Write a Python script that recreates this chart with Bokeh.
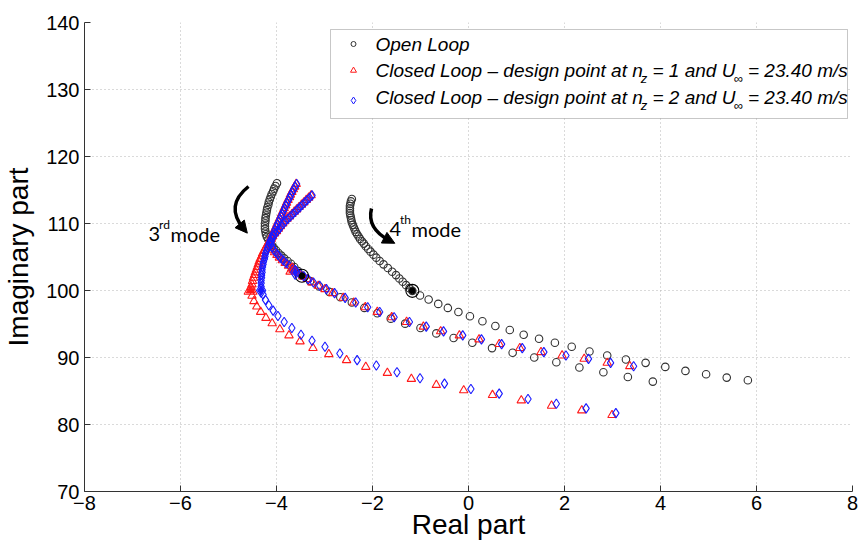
from bokeh.plotting import figure
from bokeh.models import FixedTicker, BoxAnnotation, Label, Arrow, NormalHead
from bokeh.embed import file_html
from bokeh.resources import INLINE

# ---------------- data ----------------
x_ticks = [-8, -6, -4, -2, 0, 2, 4, 6, 8]
x_tick_labels = ["\u22128", "\u22126", "\u22124", "\u22122", "0", "2", "4", "6", "8"]
y_ticks = [70, 80, 90, 100, 110, 120, 130, 140]
y_tick_labels = ["70", "80", "90", "100", "110", "120", "130", "140"]

# Open loop, 3rd mode (real, imag)
ol_mode3 = [(-3.99,116.0),(-4.02,115.6),(-4.05,115.2),(-4.07,114.8),(-4.10,114.4),(-4.12,114.0),
            (-4.14,113.6),(-4.16,113.2),(-4.17,112.8),(-4.19,112.4),(-4.20,112.0),(-4.21,111.6),
            (-4.22,111.2),(-4.23,110.8),(-4.23,110.4),(-4.24,110.0),(-4.24,109.6),(-4.24,109.2),
            (-4.23,108.8),(-4.22,108.4),(-4.20,108.0),(-4.17,107.6),(-4.14,107.2),(-4.10,106.8),
            (-4.06,106.4),(-4.01,106.0),(-3.96,105.6),(-3.90,105.2),(-3.84,104.8),(-3.77,104.4),
            (-3.70,104.0),(-3.63,103.5),(-3.55,102.9),(-3.47,102.2),(-3.30,101.4),(-3.11,100.6),
            (-2.90,99.8),(-2.67,99.0),(-2.43,98.2),(-2.17,97.4),(-1.90,96.6),(-1.62,95.8),
            (-1.32,95.05),(-1.00,94.4),(-0.67,93.6),(-0.31,92.9),(0.08,92.2),(0.49,91.4),
            (0.92,90.7),(1.37,90.0),(1.83,89.3),(2.31,88.5),(2.81,87.8),(3.32,87.1),(3.84,86.4)]
# Open loop, 4th mode
ol_mode4 = [(-2.43,113.65),(-2.45,113.3),(-2.46,112.95),(-2.47,112.6),(-2.47,112.25),(-2.47,111.9),
            (-2.47,111.55),(-2.46,111.2),(-2.45,110.85),(-2.44,110.5),(-2.43,110.15),(-2.41,109.8),
            (-2.39,109.45),(-2.37,109.1),(-2.35,108.75),(-2.32,108.4),(-2.29,108.05),(-2.26,107.7),
            (-2.22,107.35),(-2.18,107.0),(-2.14,106.6),(-2.09,106.2),(-2.04,105.8),(-1.98,105.35),
            (-1.92,104.9),(-1.85,104.4),(-1.77,103.9),(-1.68,103.35),(-1.59,102.8),(-1.51,102.3),
            (-1.44,101.8),(-1.37,101.3),(-1.30,100.8),(-1.23,100.35),(-1.17,99.95),(-1.01,99.25),
            (-0.83,98.65),(-0.63,98.0),(-0.43,97.4),(-0.21,96.8),(0.03,96.15),(0.29,95.4),
            (0.56,94.7),(0.86,94.1),(1.15,93.4),(1.47,92.8),(1.80,92.2),(2.15,91.6),(2.52,90.9),
            (2.89,90.3),(3.28,89.7),(3.69,89.2),(4.10,88.6),(4.52,88.0),(4.95,87.5),(5.38,87.0),
            (5.82,86.6)]
ol_design = [(-3.47,102.2),(-1.17,99.95)]

# Closed loop, design point n_z = 1 (two modes)
cl1_mode_a = [(-3.59,115.9),(-3.62,115.5),(-3.65,115.1),(-3.68,114.7),(-3.71,114.3),(-3.73,113.9),
              (-3.76,113.5),(-3.79,113.1),(-3.81,112.7),(-3.84,112.3),(-3.86,111.9),(-3.89,111.5),
              (-3.91,111.1),(-3.94,110.7),(-3.96,110.3),(-3.99,109.9),(-4.01,109.5),(-4.04,109.1),
              (-4.06,108.7),(-4.09,108.3),(-4.11,107.9),(-4.14,107.5),(-4.17,107.1),(-4.20,106.7),
              (-4.23,106.3),(-4.26,105.9),(-4.29,105.5),(-4.31,105.1),(-4.34,104.7),(-4.36,104.3),
              (-4.38,103.9),(-4.40,103.5),(-4.42,103.1),(-4.44,102.7),(-4.46,102.3),(-4.48,101.9),
              (-4.50,101.4),(-4.51,100.9),(-4.53,100.5),(-4.54,100.0),(-4.51,99.2),(-4.47,98.4),
              (-4.41,97.6),(-4.33,96.8),(-4.22,95.9),(-4.09,95.1),(-3.93,94.2),(-3.74,93.3),
              (-3.51,92.4),(-3.24,91.4),(-2.91,90.5),(-2.54,89.6),(-2.14,88.6),(-1.69,87.7),
              (-1.19,86.8),(-0.67,85.9),(-0.10,85.1),(0.50,84.4),(1.10,83.6),(1.73,82.8),
              (2.36,82.1),(2.99,81.4)]
cl1_mode_b = [(-3.28,114.2),(-3.33,113.85),(-3.38,113.5),(-3.43,113.15),(-3.48,112.8),(-3.53,112.45),
              (-3.58,112.1),(-3.63,111.75),(-3.68,111.4),(-3.73,111.05),(-3.78,110.7),(-3.83,110.35),
              (-3.87,110.0),(-3.92,109.6),(-3.96,109.2),(-4.00,108.85),(-4.04,108.5),(-4.08,108.1),
              (-4.11,107.7),(-4.13,107.3),(-4.13,106.9),(-4.11,106.5),(-4.08,106.1),(-4.04,105.7),
              (-3.99,105.3),(-3.94,104.9),(-3.88,104.5),(-3.82,104.1),(-3.75,103.7),(-3.68,103.3),
              (-3.61,102.9),(-3.53,102.5),(-3.45,102.1),(-3.36,101.7),(-3.26,101.2),(-3.13,100.7),
              (-2.99,100.2),(-2.83,99.6),(-2.61,98.9),(-2.39,98.2),(-2.15,97.5),(-1.90,96.8),
              (-1.60,96.0),(-1.29,95.3),(-0.94,94.6),(-0.58,93.9),(-0.19,93.3),(0.22,92.7),
              (0.64,92.0),(1.07,91.4),(1.51,90.8),(1.95,90.3),(2.41,89.8),(2.89,89.2),(3.36,88.7)]
cl1_design = [(-4.54,100.0),(-3.67,103.0)]

# Closed loop, design point n_z = 2 (two modes)
cl2_mode_a = [(-3.58,115.9),(-3.61,115.5),(-3.64,115.1),(-3.67,114.7),(-3.70,114.3),(-3.72,113.9),
              (-3.75,113.5),(-3.78,113.1),(-3.80,112.7),(-3.83,112.3),(-3.85,111.9),(-3.88,111.5),
              (-3.90,111.1),(-3.93,110.7),(-3.95,110.3),(-3.98,109.9),(-4.00,109.5),(-4.03,109.1),
              (-4.05,108.7),(-4.08,108.3),(-4.10,107.9),(-4.13,107.5),(-4.15,107.1),(-4.17,106.7),
              (-4.19,106.3),(-4.21,105.9),(-4.23,105.5),(-4.24,105.1),(-4.25,104.7),(-4.27,104.3),
              (-4.28,103.9),(-4.29,103.5),(-4.30,103.1),(-4.30,102.7),(-4.31,102.3),(-4.31,101.9),
              (-4.32,101.5),(-4.32,101.1),(-4.32,100.6),(-4.32,100.0),(-4.28,99.4),(-4.23,98.6),
              (-4.16,97.8),(-4.07,97.0),(-3.97,96.2),(-3.84,95.3),(-3.68,94.4),(-3.49,93.4),
              (-3.26,92.5),(-2.99,91.6),(-2.68,90.6),(-2.32,89.6),(-1.92,88.8),(-1.49,87.8),
              (-1.01,86.9),(-0.50,86.1),(0.05,85.3),(0.64,84.6),(1.24,83.8),(1.83,83.1),
              (2.45,82.4),(3.07,81.7)]
cl2_mode_b = [(-3.26,114.2),(-3.31,113.85),(-3.36,113.5),(-3.41,113.15),(-3.46,112.8),(-3.51,112.45),
              (-3.56,112.1),(-3.61,111.75),(-3.66,111.4),(-3.71,111.05),(-3.76,110.7),(-3.81,110.35),
              (-3.85,110.0),(-3.90,109.6),(-3.94,109.2),(-3.98,108.85),(-4.02,108.5),(-4.06,108.1),
              (-4.09,107.7),(-4.11,107.3),(-4.11,106.9),(-4.09,106.5),(-4.06,106.1),(-4.02,105.7),
              (-3.97,105.3),(-3.92,104.9),(-3.86,104.5),(-3.80,104.1),(-3.73,103.7),(-3.66,103.3),
              (-3.59,102.9),(-3.51,102.5),(-3.43,102.1),(-3.34,101.7),(-3.23,101.2),(-3.10,100.7),
              (-2.96,100.2),(-2.79,99.6),(-2.57,98.9),(-2.35,98.2),(-2.10,97.5),(-1.85,96.8),
              (-1.55,96.0),(-1.23,95.3),(-0.88,94.6),(-0.52,93.9),(-0.12,93.3),(0.27,92.7),
              (0.69,92.0),(1.12,91.4),(1.57,90.8),(2.03,90.3),(2.50,89.8),(2.96,89.2),(3.44,88.7)]
cl2_design = [(-4.32,100.0),(-3.61,102.7)]

series_labels = ["Open Loop", "Closed Loop \u2013 design point at n", "z", " = 1 and U", "\u221e",
                 " = 23.40 m/s", " = 2 and U"]

# ---------------- layout (page pixels -> data) ----------------
FL, FT, FR, FB = 81, 22, 849, 491
def X(px):
    return (px - FL) / (FR - FL) * 16 - 8
def Y(py):
    return 70 + (FB - py) / (FB - FT) * 70

def re(s):
    return [a for a, b in s]
def im(s):
    return [b for a, b in s]

p = figure(frame_width=FR - FL, frame_height=FB - FT, x_range=(-8, 8), y_range=(70, 140),
           output_backend="svg", toolbar_location=None,
           min_border_left=FL, min_border_right=861 - FR,
           min_border_top=FT, min_border_bottom=545 - FB)
p.outline_line_color = None
p.background_fill_color = "white"

for ax in (p.xaxis[0], p.yaxis[0]):
    ax.axis_line_color = "#333333"
    ax.major_tick_line_color = "#333333"
    ax.major_tick_in = 6
    ax.major_tick_out = 0
    ax.minor_tick_line_color = None
    ax.major_label_text_font = "Liberation Sans"
    ax.major_label_text_font_size = "20px"
    ax.major_label_text_color = "black"
    ax.axis_label_text_font = "Liberation Sans"
    ax.axis_label_text_font_size = "28px"
    ax.axis_label_text_font_style = "normal"
    ax.axis_label_text_color = "black"
p.xaxis.ticker = FixedTicker(ticks=x_ticks)
p.yaxis.ticker = FixedTicker(ticks=y_ticks)
p.xaxis.major_label_overrides = dict(zip(x_ticks, x_tick_labels))
p.yaxis.major_label_overrides = dict(zip(y_ticks, y_tick_labels))
p.xaxis.axis_label = "Real part"
p.yaxis.axis_label = "Imaginary part"
p.xaxis.major_label_standoff = 4
p.xaxis.axis_label_standoff = -4
p.yaxis.major_label_standoff = 5
p.yaxis.axis_label_standoff = 9

for g in (p.xgrid[0], p.ygrid[0]):
    g.grid_line_color = "#b4b4b4"
    g.grid_line_dash = "1 3"
    g.grid_line_width = 1

BLACK = "#333333"
RED = "#ff1a1a"
BLUE = "#1a1aff"

for s in (ol_mode3, ol_mode4):
    p.scatter(re(s), im(s), marker="circle", size=7.5, fill_color=None,
              line_color=BLACK, line_width=1.1)
for s in (cl1_mode_a, cl1_mode_b):
    p.scatter(re(s), im(s), marker="triangle", size=8.5, fill_color=None,
              line_color=RED, line_width=1.1)
for s in (cl2_mode_a, cl2_mode_b):
    p.scatter(re(s), im(s), marker="diamond", size=9.5, fill_color=None,
              line_color=BLUE, line_width=1.1)

# design points
p.scatter(re(ol_design), im(ol_design), marker="circle", size=13, fill_color=None,
          line_color="black", line_width=1.1)
p.scatter(re(ol_design), im(ol_design), marker="circle", size=6, fill_color="black",
          line_color="black")
p.scatter(re(cl1_design), im(cl1_design), marker="triangle", size=13, fill_color=None,
          line_color=RED, line_width=1.1)
p.scatter(re(cl1_design), im(cl1_design), marker="triangle", size=7, fill_color=RED,
          line_color=RED)
p.scatter(re(cl2_design), im(cl2_design), marker="diamond", size=14, fill_color=None,
          line_color=BLUE, line_width=1.1)
p.scatter(re(cl2_design), im(cl2_design), marker="diamond", size=8, fill_color=BLUE,
          line_color=BLUE)

# mode annotations with curved arrows
def curved_arrow(p0, c, p2):
    p.quadratic(x0=[X(p0[0])], y0=[Y(p0[1])], x1=[X(p2[0])], y1=[Y(p2[1])],
                cx=[X(c[0])], cy=[Y(c[1])], line_color="black", line_width=3.5)
    dx, dy = p2[0] - c[0], p2[1] - c[1]
    n = (dx * dx + dy * dy) ** 0.5
    ux, uy = dx / n, dy / n
    p.add_layout(Arrow(end=NormalHead(size=12, fill_color="black", line_color="black"),
                       x_start=X(p2[0] - 3 * ux), y_start=Y(p2[1] - 3 * uy),
                       x_end=X(p2[0] + 6 * ux), y_end=Y(p2[1] + 6 * uy),
                       line_color="black", line_width=3))

curved_arrow((245, 186), (221, 205), (240, 228))
curved_arrow((368, 208), (363, 228), (386, 240))

def txt(px, py, s, size, font="Lato"):
    p.add_layout(Label(x=X(px), y=Y(py), text=s, text_font=font, text_font_size=size,
                       text_baseline="alphabetic", text_color="black"))

txt(145, 233, "3", "20px")
txt(155.5, 224, "rd", "12px")
txt(167, 233, "mode", "20px")
txt(386, 228, "4", "20px")
txt(396.5, 219, "th", "12px")
txt(408, 228, "mode", "20px")

# legend
p.add_layout(BoxAnnotation(left=X(327), right=X(844), top=Y(29), bottom=Y(118),
                           fill_color="white", fill_alpha=1, line_color="#444444",
                           line_width=1, level="underlay"))
p.scatter([X(350)], [Y(43.5)], marker="circle", size=5, fill_color=None, line_color=BLACK)
p.scatter([X(350)], [Y(70)], marker="triangle", size=6, fill_color=None, line_color=RED)
p.scatter([X(350)], [Y(100)], marker="diamond", size=7, fill_color=None, line_color=BLUE)

W = {' ': 278, 'C': 722, 'l': 222, 'o': 556, 's': 500, 'e': 556, 'd': 556, 'L': 556, 'p': 556,
     '\u2013': 556, 'i': 222, 'g': 556, 'n': 556, 't': 278, 'a': 556, '=': 584, '1': 556,
     '2': 556, '3': 556, '4': 556, '0': 556, '.': 278, 'U': 722, 'm': 833, '/': 278, 'z': 500,
     'O': 778, '\u221e': 713}
def tw(s, size):
    return sum(W[ch] for ch in s) / 1000.0 * size

FS, SS = 19, 13
def leg_text(px, pymid, s, size):
    lead = len(s) - len(s.lstrip(" "))
    px += tw(" " * lead, size)
    p.add_layout(Label(x=X(px), y=Y(pymid), text=s.lstrip(" "), text_font="Liberation Sans",
                       text_font_size=f"{size}px", text_font_style="italic",
                       text_baseline="middle", text_color="black"))

x0 = 372
leg_text(x0, 43.5, series_labels[0], FS)
for row_mid, eq in ((69.5, series_labels[3]), (96.5, series_labels[6])):
    xp = x0
    leg_text(xp, row_mid, series_labels[1], FS)
    xp += tw(series_labels[1], FS) - 2
    leg_text(xp, row_mid + 8, series_labels[2], SS)
    xp += tw(series_labels[2], SS)
    leg_text(xp, row_mid, eq, FS)
    xp += tw(eq, FS) - 2
    leg_text(xp, row_mid + 8, series_labels[4], SS)
    xp += tw(series_labels[4], SS)
    leg_text(xp, row_mid, series_labels[5], FS)

open("out.html", "w").write(file_html(p, INLINE))
